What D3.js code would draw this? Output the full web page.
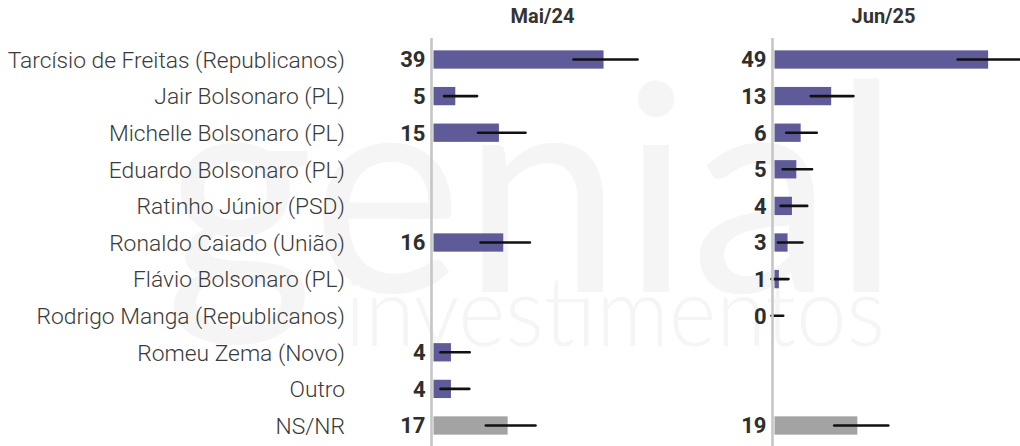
<!DOCTYPE html>
<html>
<head>
<meta charset="utf-8">
<script src="https://cdn.jsdelivr.net/npm/d3@7"></script>
<style>
  html, body { margin: 0; padding: 0; background: #fff; }
  svg { display: block; }
</style>
</head>
<body>
<svg id="chart" width="1020" height="446"></svg>
<script>
// Candidates, in display order
const categories = [
  "Tarcísio de Freitas (Republicanos)",
  "Jair Bolsonaro (PL)",
  "Michelle Bolsonaro (PL)",
  "Eduardo Bolsonaro (PL)",
  "Ratinho Júnior (PSD)",
  "Ronaldo Caiado (União)",
  "Flávio Bolsonaro (PL)",
  "Rodrigo Manga (Republicanos)",
  "Romeu Zema (Novo)",
  "Outro",
  "NS/NR"
];

// Survey columns
const periods = ["Mai/24", "Jun/25"];

// Mai/24 values (%), with interval bounds (null = not asked)
const mai24   = [39, 5, 15, null, null, 16, null, null, 4, 4, 17];
const mai24Lo = [32.1, 2.4, 10.2, null, null, 10.8, null, null, 1.6, 1.6, 12.0];
const mai24Hi = [46.8, 10.0, 21.1, null, null, 22.1, null, null, 8.3, 8.2, 23.4];

// Jun/25 values (%), with interval bounds
const jun25   = [49, 13, 6, 5, 4, 3, 1, 0, null, null, 19];
const jun25Lo = [42.0, 8.3, 2.7, 1.9, 1.4, 0.8, 0, 0, null, null, 13.7];
const jun25Hi = [57.0, 18.1, 9.7, 8.6, 7.5, 6.4, 3.2, 2.0, null, null, 26.1];

const undecidedLabel = "NS/NR";

const svg = d3.select("#chart");

// Brand watermark in the background
const wm = svg.append("g").attr("fill", "#f5f5f5");
wm.append("text")
  .attr("x", 165).attr("y", 292)
  .attr("font-family", "Lato, 'Open Sans', sans-serif")
  .attr("font-weight", 400)
  .attr("font-size", 290)
  .attr("textLength", 735)
  .attr("lengthAdjust", "spacingAndGlyphs")
  .text("genial");
wm.append("text")
  .attr("x", 345).attr("y", 346)
  .attr("font-family", "Lato, 'Open Sans', sans-serif")
  .attr("font-weight", 300)
  .attr("font-size", 96)
  .attr("textLength", 540)
  .attr("lengthAdjust", "spacingAndGlyphs")
  .text("investimentos");

// Row positions
const y = d3.scaleBand()
  .domain(categories)
  .range([41.2, 443.8])
  .paddingInner(0.5)
  .paddingOuter(0.25);

// Category labels on the left
svg.append("g")
  .selectAll("text")
  .data(categories)
  .join("text")
  .attr("x", 345)
  .attr("y", d => y(d) + y.bandwidth() / 2)
  .attr("dy", "0.36em")
  .attr("text-anchor", "end")
  .attr("font-family", "Roboto, sans-serif")
  .attr("font-weight", 300)
  .attr("font-size", 22.8)
  .attr("fill", "#3a3a3a")
  .text(d => d);

const panels = [
  { title: periods[0], x0: 433.5, values: mai24, lo: mai24Lo, hi: mai24Hi },
  { title: periods[1], x0: 774.5, values: jun25, lo: jun25Lo, hi: jun25Hi }
];

const panelWidth = 218;

panels.forEach(p => {
  const x = d3.scaleLinear().domain([0, 50]).range([p.x0, p.x0 + panelWidth]);
  const g = svg.append("g");

  const rows = categories.map((c, i) => ({
    cat: c, v: p.values[i], lo: p.lo[i], hi: p.hi[i]
  })).filter(d => d.v !== null);

  // Column title
  g.append("text")
    .attr("x", x(25))
    .attr("y", 23)
    .attr("text-anchor", "middle")
    .attr("font-family", "Roboto, sans-serif")
    .attr("font-weight", 700)
    .attr("font-size", 20)
    .attr("fill", "#333")
    .text(p.title);

  // Bars
  g.selectAll("rect")
    .data(rows)
    .join("rect")
    .attr("x", x(0))
    .attr("y", d => y(d.cat))
    .attr("width", d => x(d.v) - x(0))
    .attr("height", y.bandwidth())
    .attr("fill", d => d.cat === undecidedLabel ? "#a3a3a3" : "#5f5b99");

  // Interval lines
  g.selectAll("line.err")
    .data(rows)
    .join("line")
    .attr("class", "err")
    .attr("x1", d => x(d.lo) - (d.lo === 0 ? 3 : 0))
    .attr("x2", d => x(d.hi))
    .attr("y1", d => y(d.cat) + y.bandwidth() / 2)
    .attr("y2", d => y(d.cat) + y.bandwidth() / 2)
    .attr("stroke", "#111")
    .attr("stroke-width", 2.6)
    .attr("stroke-linecap", "round");

  // Zero axis line
  g.append("line")
    .attr("x1", x(0) - 2).attr("x2", x(0) - 2)
    .attr("y1", 38).attr("y2", 446)
    .attr("stroke", "#c6c6c6")
    .attr("stroke-width", 2.6);

  // Value labels
  g.selectAll("text.val")
    .data(rows)
    .join("text")
    .attr("class", "val")
    .attr("x", x(0) - 8)
    .attr("y", d => y(d.cat) + y.bandwidth() / 2)
    .attr("dy", "0.36em")
    .attr("text-anchor", "end")
    .attr("font-family", "Roboto, sans-serif")
    .attr("font-weight", 700)
    .attr("font-size", 22)
    .attr("fill", "#2e2e2e")
    .text(d => d.v);
});
</script>
</body>
</html>
